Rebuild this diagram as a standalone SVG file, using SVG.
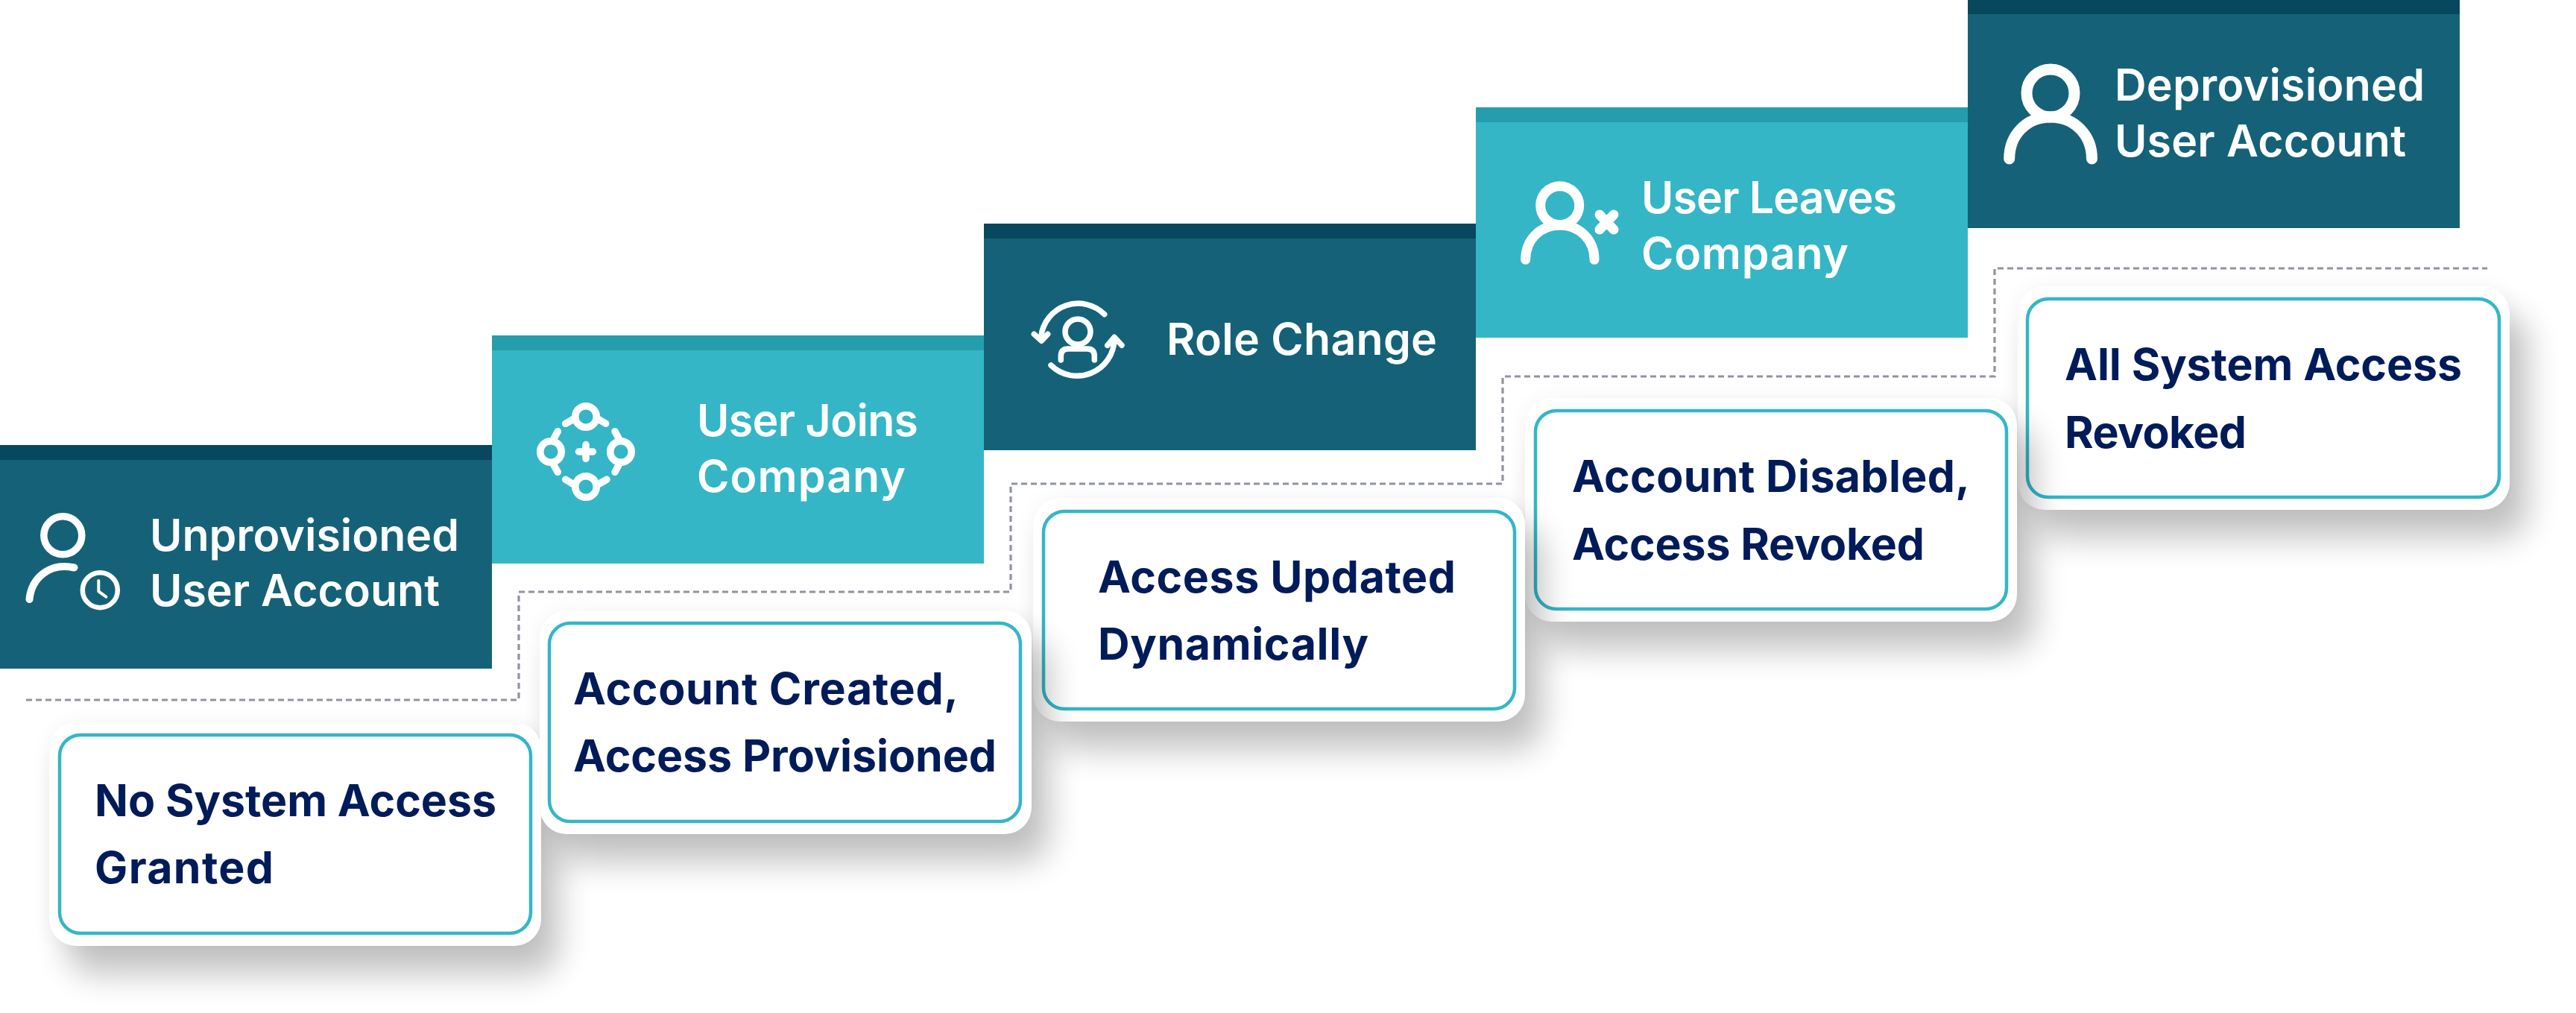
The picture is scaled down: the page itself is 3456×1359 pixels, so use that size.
<svg xmlns="http://www.w3.org/2000/svg" width="3456" height="1359" viewBox="0 0 3456 1359">
<defs>
<filter id="sh" x="-20%" y="-30%" width="140%" height="180%" color-interpolation-filters="sRGB">
<feGaussianBlur in="SourceAlpha" stdDeviation="22" result="b"/>
<feOffset in="b" dx="24" dy="38" result="o"/>
<feComponentTransfer in="o" result="main"><feFuncA type="linear" slope=".24"/></feComponentTransfer>
<feGaussianBlur in="SourceAlpha" stdDeviation="14" result="g"/>
<feComponentTransfer in="g" result="glow"><feFuncA type="linear" slope=".05"/></feComponentTransfer>
<feMerge><feMergeNode in="glow"/><feMergeNode in="main"/></feMerge>
</filter>
<rect id="cardShape" width="660" height="300" rx="36"/>
</defs>
<style>
.dark{fill:#156278}.darkband{fill:#07485e}.light{fill:#34b6c6}.lightband{fill:#259dad}
.h{font-family:"Inter","Liberation Sans",sans-serif;font-weight:600;font-size:59px;fill:#fff}
.b{font-family:"Inter","Liberation Sans",sans-serif;font-weight:700;font-size:59px;fill:#001b5a}
.outer{fill:#fff}
.inner{fill:#fff;stroke:#34b6c8;stroke-width:4.5}
.shadow{filter:url(#sh)}
.ic{fill:none;stroke:#fff;stroke-linecap:round;stroke-linejoin:round}
.dash{fill:none;stroke:#8f959e;stroke-width:3.2;stroke-dasharray:8 5}
</style>
<rect width="3456" height="1359" fill="#fff"/>

<g id="connectors">
<path class="dash" d="M35 939H696V794H1356V649H2016V505H2676V360H3337"/>
</g>

<g id="step1"><rect class="dark" x="0" y="597" width="660" height="300"/><rect class="darkband" x="0" y="597" width="660" height="20"/>
<g class="ic"><circle cx="84.3" cy="718.3" r="25.5" stroke-width="9.5"/><path d="M39.5 804C42 776 66 754 99.5 761.5" stroke-width="10"/><circle cx="134.3" cy="791.7" r="23.5" stroke-width="6.5"/><path d="M132.3 779V793.3L142.3 800.7" stroke-width="4"/></g>
<text class="h" x="201" y="739" textLength="415">Unprovisioned</text><text class="h" x="201" y="813" textLength="389">User Account</text></g>

<g id="step2"><rect class="light" x="660" y="450" width="660" height="306"/><rect class="lightband" x="660" y="450" width="660" height="20"/>
<g class="ic" stroke-width="9.5"><circle cx="786" cy="559" r="14.3"/><circle cx="739" cy="606" r="14.3"/><circle cx="833" cy="606" r="14.3"/><circle cx="786" cy="653" r="14.3"/>
<path d="M758.7 568.3L768 563M812.7 568.3L804 563M748.3 578.7L743.3 588M748.3 633.3L743 624M825 578.7L830 588M825 633.3L830 624M758.7 643.3L768 649M814 643.3L804 649M776.5 606H795.5M786 596.5V615.5"/></g>
<text class="h" x="935" y="585" textLength="297">User Joins</text><text class="h" x="935" y="660" textLength="280">Company</text></g>

<g id="step3"><rect class="dark" x="1320" y="300" width="660" height="304"/><rect class="darkband" x="1320" y="300" width="660" height="20"/>
<g class="ic" stroke-width="7.5"><circle cx="1446" cy="445" r="17"/><path d="M1423.3 483V478Q1423.3 468 1433 468H1459Q1468.3 468 1468.3 478V483"/>
<path d="M1481.7 421.7A50 50 0 0 0 1396.7 451.7M1387.3 448.3L1397.3 457.3L1405.7 448.3M1410 490A50 50 0 0 0 1495 455M1485.7 463.3L1495 452.3L1505 463.3"/></g>
<text class="h" x="1565" y="476" textLength="363">Role Change</text></g>

<g id="step4"><rect class="light" x="1980" y="144" width="660" height="309"/><rect class="lightband" x="1980" y="144" width="660" height="20"/>
<g class="ic" stroke-width="13"><circle cx="2092.7" cy="275.7" r="26"/><path d="M2046.7 348.3C2046.7 322 2066 302 2093 302C2119 302 2139 322 2139 348.3M2146 288L2165 308M2165 288L2146 308"/></g>
<text class="h" x="2202" y="286" textLength="343">User Leaves</text><text class="h" x="2202" y="361" textLength="278">Company</text></g>

<g id="step5"><rect class="dark" x="2640" y="0" width="660" height="306"/><rect class="darkband" x="2640" y="0" width="660" height="19"/>
<g class="ic" stroke-width="15"><circle cx="2751" cy="125" r="32"/><path d="M2695.7 213C2695.7 182 2718 157 2751 157C2784 157 2806.5 182 2806.5 213"/></g>
<text class="h" x="2837" y="135" textLength="416">Deprovisioned</text><text class="h" x="2837" y="210" textLength="391">User Account</text></g>

<g id="outcome5"><use href="#cardShape" class="shadow" x="2707" y="384"/><use href="#cardShape" class="outer" x="2707" y="384"/><rect class="inner" x="2720" y="401" width="633" height="266" rx="28"/>
<text class="b" x="2770" y="510" textLength="533">All System Access</text><text class="b" x="2770" y="601" textLength="244">Revoked</text></g>

<g id="outcome4"><use href="#cardShape" class="shadow" x="2046" y="534"/><use href="#cardShape" class="outer" x="2046" y="534"/><rect class="inner" x="2060" y="551" width="632" height="266" rx="28"/>
<text class="b" x="2109" y="660" textLength="534">Account Disabled,</text><text class="b" x="2109" y="751" textLength="473">Access Revoked</text></g>

<g id="outcome3"><use href="#cardShape" class="shadow" x="1386" y="668"/><use href="#cardShape" class="outer" x="1386" y="668"/><rect class="inner" x="1400" y="686" width="632" height="265" rx="28"/>
<text class="b" x="1473" y="795" textLength="480">Access Updated</text><text class="b" x="1473" y="885" textLength="363">Dynamically</text></g>

<g id="outcome-shadows"><use href="#cardShape" class="shadow" x="66" y="969"/><use href="#cardShape" class="shadow" x="724" y="819"/></g>

<g id="outcome1"><use href="#cardShape" class="outer" x="66" y="969"/><rect class="inner" x="80" y="986" width="632" height="266" rx="28"/>
<text class="b" x="127" y="1095" textLength="539">No System Access</text><text class="b" x="127" y="1185" textLength="240">Granted</text></g>

<g id="outcome2"><use href="#cardShape" class="outer" x="724" y="819"/><rect class="inner" x="737" y="836" width="632" height="266" rx="28"/>
<text class="b" x="769" y="945" textLength="517">Account Created,</text><text class="b" x="769" y="1035" textLength="568">Access Provisioned</text></g>
</svg>
